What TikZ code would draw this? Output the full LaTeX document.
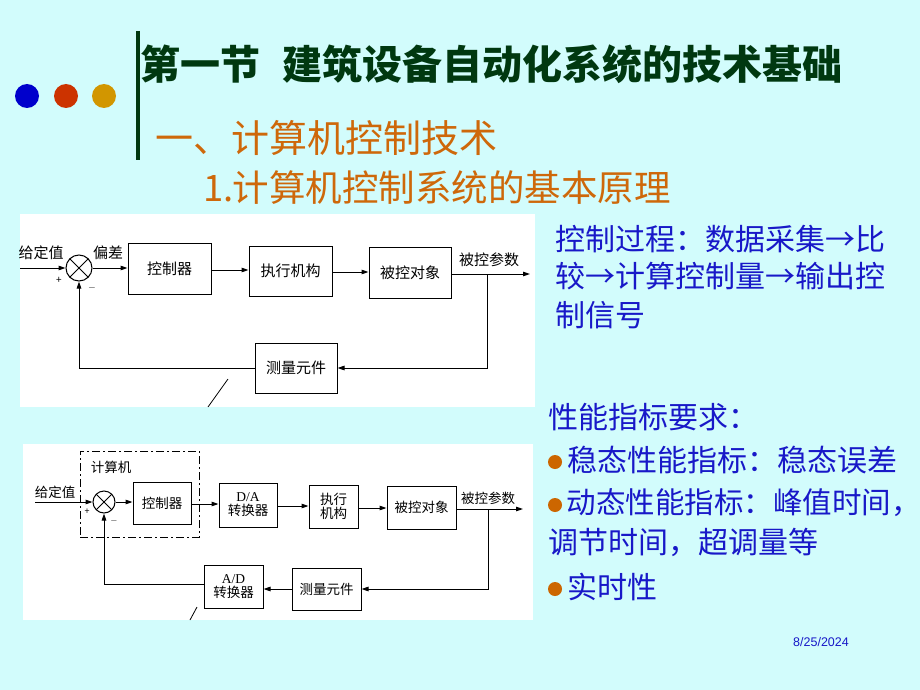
\documentclass[tikz,border=0pt]{standalone}
\usepackage{fontspec}
\setmainfont{Noto Sans CJK SC}
\newfontfamily\seriflatin{Liberation Serif}
\newfontfamily\datefont{Liberation Sans}
\usetikzlibrary{arrows.meta}
\definecolor{bgcyan}{RGB}{210,252,252}
\definecolor{titlegreen}{RGB}{0,56,16}
\definecolor{headorange}{RGB}{206,104,10}
\definecolor{txtblue}{RGB}{24,24,200}
\definecolor{dotblue}{RGB}{0,0,204}
\definecolor{dotred}{RGB}{204,51,0}
\definecolor{dotgold}{RGB}{210,150,0}
\definecolor{bulorange}{RGB}{204,102,0}
\tikzset{
  blk/.style={draw,fill=white,inner sep=0pt,align=center},
  sumpt/.style={draw,circle,fill=white,inner sep=0pt,minimum size=#1,
    path picture={\draw (path picture bounding box.north west)--(path picture bounding box.south east)
      (path picture bounding box.north east)--(path picture bounding box.south west);}},
  lbl/.style={inner sep=0pt},
  rtxt/.style={anchor=west,inner sep=0pt,text=txtblue,font=\fontsize{30}{30}\selectfont}
}
\begin{document}
\begin{tikzpicture}[x=1pt,y=-1pt,>={Triangle[length=7pt,width=4.5pt]},line width=1pt]
  \fill[bgcyan] (0,0) rectangle (920,690);
  \useasboundingbox (0,0) rectangle (920,690);
  % heading
  \fill[dotblue] (27,96) circle (12);
  \fill[dotred] (66,96) circle (12);
  \fill[dotgold] (104,96) circle (12);
  \draw[titlegreen,line width=3.5pt] (138,31)--(138,160);
  \node[anchor=west,lbl,text=titlegreen,font=\fontsize{40}{40}\selectfont\bfseries] (title) at (140,64) {第一节\hspace{0.55em}建筑设备自动化系统的技术基础};
  \node[anchor=west,lbl,text=headorange,font=\fontsize{38}{38}\selectfont] (sec) at (155,138) {一、计算机控制技术};
  \node[anchor=west,lbl,text=headorange,font=\fontsize{36.5}{36.5}\selectfont] (subsec) at (203,188) {1.\hspace{-1pt}计算机控制系统的基本原理};

  % diagram 1
  \fill[white] (20,214) rectangle (535,407);
  \begin{scope}[font=\fontsize{15}{17}\selectfont]
    \node[sumpt=26pt] (sum1) at (79,268) {};
    \node[blk,minimum width=83pt,minimum height=51pt] (ctl1) at (169.5,268.5) {控制器};
    \node[blk,minimum width=83pt,minimum height=50pt] (act1) at (290.5,271) {执行机构};
    \node[blk,minimum width=82pt,minimum height=51pt] (obj1) at (410,272.5) {被控对象};
    \node[blk,minimum width=82pt,minimum height=50pt] (meas1) at (296,368) {测量元件};
    \node[lbl] (set1) at (41,253) {给定值};
    \node[lbl] (err1) at (108,253) {偏差};
    \node[lbl] (par1) at (489,260) {被控参数};
    \node[lbl,font=\fontsize{10}{10}\selectfont] (plus1) at (59,280) {+};
    \node[lbl,font=\fontsize{10}{10}\selectfont] (minus1) at (92,288) {$-$};
  \end{scope}
  \coordinate (in1) at (20,268);
  \coordinate (out1) at (530,274);
  \coordinate (br1) at (487,274);
  \draw[->] (in1)--(sum1);
  \draw[->] (sum1)--(sum1 -| ctl1.west);
  \draw[->] (ctl1.east |- 0,270)--(act1.west |- 0,270);
  \draw[->] (act1.east |- 0,272)--(obj1.west |- 0,272);
  \draw[->] (obj1.east |- out1)--(out1);
  \draw[->] (br1)|-(meas1.east);
  \draw[->] (meas1.west)-|(sum1.south);
  \draw[line width=0.8pt] (228,379)--(208,407);

  % diagram 2
  \fill[white] (23,444) rectangle (533,620);
  \begin{scope}[font=\fontsize{13.5}{16}\selectfont]
    \node[draw,dash pattern=on 8pt off 3pt on 2pt off 3pt,minimum width=119pt,minimum height=86pt,inner sep=0pt] (pc) at (139.5,494) {};
    \node[lbl] (pclbl) at (111,467) {计算机};
    \node[sumpt=22pt] (sum2) at (104,502) {};
    \node[blk,minimum width=58pt,minimum height=42pt] (ctl2) at (162,503) {控制器};
    \node[blk,minimum width=58pt,minimum height=44pt] (da2) at (248,505) {{\seriflatin D/A}\\[-2pt]转换器};
    \node[blk,minimum width=49pt,minimum height=43pt] (act2) at (333.5,506.5) {执行\\[-2pt]机构};
    \node[blk,minimum width=69pt,minimum height=43pt] (obj2) at (421.5,507.5) {被控对象};
    \node[blk,minimum width=69pt,minimum height=42pt] (meas2) at (326.5,589) {测量元件};
    \node[blk,minimum width=59pt,minimum height=43pt] (ad2) at (233.5,586.5) {{\seriflatin A/D}\\[-2pt]转换器};
    \node[lbl] (set2) at (55,492) {给定值};
    \node[lbl] (par2) at (488,498) {被控参数};
    \node[lbl,font=\fontsize{9}{9}\selectfont] (plus2) at (87,512) {+};
    \node[lbl,font=\fontsize{9}{9}\selectfont] (minus2) at (114,521) {$-$};
  \end{scope}
  \coordinate (in2) at (35,502);
  \coordinate (out2) at (523,509);
  \coordinate (br2) at (488,509);
  \draw[->] (in2)--(sum2);
  \draw[->] (sum2)--(sum2 -| ctl2.west);
  \draw[->] (ctl2.east |- 0,504)--(da2.west |- 0,504);
  \draw[->] (da2.east |- 0,506)--(act2.west |- 0,506);
  \draw[->] (act2.east |- 0,508)--(obj2.west |- 0,508);
  \draw[->] (obj2.east |- out2)--(out2);
  \draw[->] (br2)|-(meas2.east);
  \draw[->] (meas2.west)--(ad2.east |- meas2.west);
  \draw[->] (ad2.west |- 0,584)-|(sum2.south);
  \draw[line width=0.8pt] (197,607)--(190,620);

  % right column
  \node[rtxt] (proc1) at (555,239) {控制过程：数据采集→比};
  \node[rtxt] (proc2) at (555,276) {较→计算控制量→输出控};
  \node[rtxt] (proc3) at (555,315) {制信号};
  \node[rtxt] (perf) at (548,417) {性能指标要求：};
  \node[circle,fill=bulorange,minimum size=14pt,inner sep=0pt] (bul1) at (555,462) {};
  \node[rtxt] (perf1) at (567,460) {稳态性能指标：稳态误差};
  \node[circle,fill=bulorange,minimum size=14pt,inner sep=0pt] (bul2) at (555,505) {};
  \node[rtxt,font=\fontsize{29.5}{29.5}\selectfont] (perf2) at (566,503) {动态性能指标：峰值时间\makebox[0.35em][l]{，}};
  \node[rtxt] (perf3) at (548,542) {调节时间，超调量等};
  \node[circle,fill=bulorange,minimum size=14pt,inner sep=0pt] (bul3) at (555,589) {};
  \node[rtxt] (perf4) at (567,587) {实时性};
  \node[lbl,text=txtblue,font=\datefont\fontsize{12.5}{12.5}\selectfont] (date) at (821,642) {8/25/2024};
\end{tikzpicture}
\end{document}
